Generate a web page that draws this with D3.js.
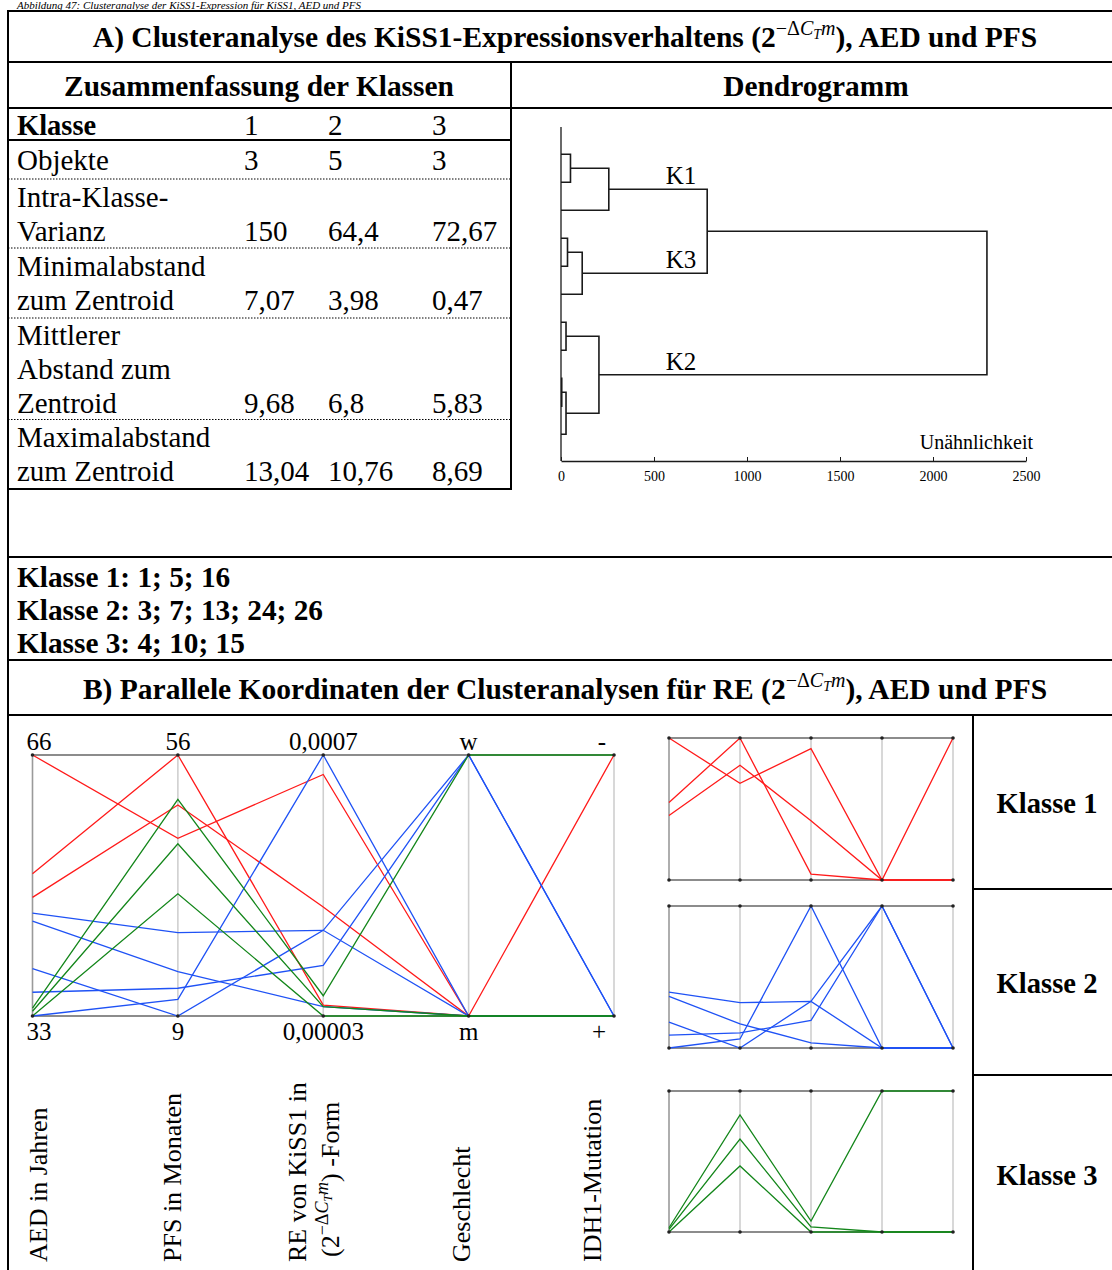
<!DOCTYPE html>
<html>
<head>
<meta charset="utf-8">
<script src="https://cdn.jsdelivr.net/npm/d3@7"></script>
<style>
  body { margin: 0; background: #fff; }
  svg { display: block; font-family: "Liberation Serif", "Times New Roman", serif; }
</style>
</head>
<body>
<svg id="chart" width="1112" height="1270"></svg>
<script>
// --- table A: summary of the classes ---
const klassenNr = ["1", "2", "3"];
const rowLabels = [
    ["Objekte"],
    ["Intra-Klasse-", "Varianz"],
    ["Minimalabstand", "zum Zentroid"],
    ["Mittlerer", "Abstand zum", "Zentroid"],
    ["Maximalabstand", "zum Zentroid"]
];
const objekte = ["3", "5", "3"];
const intraVarianz = ["150", "64,4", "72,67"];
const minAbstand = ["7,07", "3,98", "0,47"];
const mittAbstand = ["9,68", "6,8", "5,83"];
const maxAbstand = ["13,04", "10,76", "8,69"];
const klasseMembers = ["1; 5; 16", "3; 7; 13; 24; 26", "4; 10; 15"];

// --- dendrogram (linkage: left child, right child, height) ---
const leafCount = 11;
const linkLeft = [0, 11, 3, 13, 6, 8, 16, 15, 12, 19];
const linkRight = [1, 2, 4, 5, 7, 9, 10, 17, 14, 18];
const linkHeight = [51, 257, 35, 114, 27, 4, 27, 204, 786, 2290];
const clusterNodes = [12, 14, 18];
const clusterNames = ["K1", "K3", "K2"];
const dendroTicks = [0, 500, 1000, 1500, 2000, 2500];

// --- parallel coordinates ---
const dims = ["aed", "pfs", "re", "sex", "idh"];
const aedRange = [33, 66];
const pfsRange = [9, 56];
const reRange = [0.00003, 0.0007];
const sexLevels = ["m", "w"];
const idhLevels = ["+", "-"];
const topLabels = ["66", "56", "0,0007", "w", "-"];
const bottomLabels = ["33", "9", "0,00003", "m", "+"];

const klasse = [1, 1, 1, 2, 2, 2, 2, 2, 3, 3, 3];
const aed = [66, 51, 48, 46, 45, 39, 36, 33, 34, 33.6, 33];
const pfs = [41, 56, 47, 24, 17, 9, 14, 12, 48, 40, 31];
const re = [0.00065, 0.000058, 0.00031, 0.00025, 0.000054, 0.00025, 0.00016, 0.0007, 0.000082, 0.000054, 0.00003];
const sex = ["m", "m", "m", "m", "m", "w", "w", "m", "w", "m", "m"];
const idh = ["-", "+", "+", "+", "+", "+", "+", "+", "-", "+", "+"];

const klasseColors = { 1: "#ff1a1a", 2: "#1f52f5", 3: "#13861a" };

const svg = d3.select('#chart');
const W = 1112;

// helper: plain text
function txt(x, y, s, size, opts = {}) {
    return svg.append('text')
        .attr('x', x).attr('y', y)
        .attr('font-size', size)
        .attr('font-weight', opts.bold ? 'bold' : 'normal')
        .attr('font-style', opts.italic ? 'italic' : 'normal')
        .attr('text-anchor', opts.anchor || 'start')
        .attr('fill', '#000')
        .text(s);
}

// helper: text with the 2^(-ΔCTm) term
function mathText(parent, before, after, size, bold) {
    const t = parent.append('text')
        .attr('font-size', size)
        .attr('font-weight', bold ? 'bold' : 'normal')
        .attr('fill', '#000');
    const sup = Math.round(size * 0.68);
    const sub = Math.round(size * 0.48);
    t.append('tspan').text(before + '(2');
    t.append('tspan').attr('dy', -size * 0.42).attr('font-size', sup)
        .attr('font-weight', 'normal').text('\u2212\u0394');
    t.append('tspan').attr('font-size', sup).attr('font-style', 'italic')
        .attr('font-weight', 'normal').text('C');
    t.append('tspan').attr('dy', size * 0.16).attr('font-size', sub)
        .attr('font-style', 'italic').attr('font-weight', 'normal').text('T');
    t.append('tspan').attr('dy', -size * 0.16).attr('font-size', sup)
        .attr('font-style', 'italic').attr('font-weight', 'normal').text('m');
    t.append('tspan').attr('dy', size * 0.42).text(')' + after);
    return t;
}

function hline(x1, x2, y, w = 2, dash = null) {
    svg.append('line').attr('x1', x1).attr('x2', x2).attr('y1', y).attr('y2', y)
        .attr('stroke', '#000').attr('stroke-width', w)
        .attr('stroke-dasharray', dash);
}
function vline(x, y1, y2, w = 2) {
    svg.append('line').attr('x1', x).attr('x2', x).attr('y1', y1).attr('y2', y2)
        .attr('stroke', '#000').attr('stroke-width', w);
}

// ---------- frame ----------
txt(17, 8.5, 'Abbildung 47: Clusteranalyse der KiSS1-Expression für KiSS1, AED und PFS', 11, { italic: true });

const xL = 8, xDiv = 511, xRight = 973;
hline(xL - 1, W, 11);
hline(xL - 1, W, 62);
hline(xL - 1, W, 108);
hline(xL - 1, xDiv, 140);
hline(xL - 1, xDiv + 1, 489);
hline(xL - 1, W, 557);
hline(xL - 1, W, 660);
hline(xL - 1, W, 715);
hline(xRight, W, 889);
hline(xRight, W, 1075);
vline(xL, 11, 1270);
vline(xDiv, 62, 489);
vline(xRight, 715, 1270);

mathText(svg, 'A) Clusteranalyse des KiSS1-Expressionsverhaltens ', ', AED und PFS', 29.5, true)
    .attr('x', 565).attr('y', 47).attr('text-anchor', 'middle');
txt(259, 96, 'Zusammenfassung der Klassen', 29.4, { bold: true, anchor: 'middle' });
txt(816, 96, 'Dendrogramm', 29.4, { bold: true, anchor: 'middle' });

// ---------- summary table ----------
const colX = [244, 328, 432];
const rowY = [170, 207, 276, 345, 447];
const lineStep = 34;
const rowValues = [objekte, intraVarianz, minAbstand, mittAbstand, maxAbstand];
const dottedY = [179, 248, 318, 419.5];

txt(17, 135, 'Klasse', 28.5, { bold: true });
klassenNr.forEach((k, i) => txt(colX[i], 135, k, 29));
rowLabels.forEach((lines, r) => {
    lines.forEach((s, j) => txt(17, rowY[r] + j * lineStep, s, 29));
    const yLast = rowY[r] + (lines.length - 1) * lineStep;
    rowValues[r].forEach((v, i) => txt(colX[i], yLast, v, 29));
});
dottedY.forEach(y => hline(xL, xDiv, y, 1, '1.5,1.5'));

// ---------- class members ----------
klasseMembers.forEach((m, i) =>
    txt(17, 587 + i * 33, `Klasse ${i + 1}: ${m}`, 29.3, { bold: true }));

mathText(svg, 'B) Parallele Koordinaten der Clusteranalysen für RE ', ', AED und PFS', 29.5, true)
    .attr('x', 565).attr('y', 699).attr('text-anchor', 'middle');

// ---------- dendrogram ----------
const nodes = d3.range(leafCount).map(i => ({ id: i, h: 0 }));
linkLeft.forEach((a, k) => {
    nodes.push({ id: leafCount + k, h: linkHeight[k], children: [nodes[a], nodes[linkRight[k]]] });
});
const root = d3.hierarchy(nodes[nodes.length - 1]);
const leafStep = 28;
d3.cluster().size([leafStep * leafCount, 1]).separation(() => 1)(root);

const dx = d3.scaleLinear().domain([0, 2500]).range([561, 1026]);
const dyTop = 154.3 - leafStep / 2;
const dendro = svg.append('g');

root.descendants().filter(n => n.children).forEach(n => {
    const xm = dx(n.data.h);
    const ys = n.children.map(c => c.x + dyTop);
    dendro.append('path')
        .attr('d', `M${dx(n.children[0].data.h)},${ys[0]}H${xm}V${ys[1]}H${dx(n.children[1].data.h)}`)
        .attr('fill', 'none').attr('stroke', '#1a1a1a').attr('stroke-width', 1.6);
});
dendro.append('line').attr('x1', dx(0)).attr('x2', dx(0)).attr('y1', 127).attr('y2', 461)
    .attr('stroke', '#1a1a1a').attr('stroke-width', 1.3);

root.descendants().filter(n => clusterNodes.includes(n.data.id)).forEach(n => {
    const name = clusterNames[clusterNodes.indexOf(n.data.id)];
    dendro.append('text').attr('x', 681).attr('y', n.x + dyTop - 5)
        .attr('text-anchor', 'middle').attr('font-size', 25).text(name);
});

const dAxis = dendro.append('g').attr('transform', 'translate(0,461)')
    .call(d3.axisBottom(dx).tickValues(dendroTicks).tickFormat(d3.format('d'))
        .tickSizeInner(-4).tickSizeOuter(0).tickPadding(10));
dAxis.select('.domain').attr('stroke', '#1a1a1a').attr('stroke-width', 1.3);
dAxis.selectAll('.tick line').attr('stroke', '#1a1a1a');
dAxis.selectAll('.tick text').attr('font-size', 14)
    .attr('font-family', '"Liberation Serif", serif').attr('fill', '#000');
dendro.append('text').attr('x', 1033).attr('y', 449).attr('text-anchor', 'end')
    .attr('font-size', 20).text('Unähnlichkeit');

// ---------- parallel coordinates ----------
const rows = klasse.map((k, i) => ({ klasse: k, aed: aed[i], pfs: pfs[i], re: re[i], sex: sex[i], idh: idh[i] }));

function drawParallel(x0, x1, yTop, yBot, data, withLabels) {
    const g = svg.append('g');
    const x = d3.scalePoint().domain(dims).range([x0, x1]);
    const y = {
        aed: d3.scaleLinear().domain(aedRange).range([yBot, yTop]),
        pfs: d3.scaleLinear().domain(pfsRange).range([yBot, yTop]),
        re: d3.scaleLinear().domain(reRange).range([yBot, yTop]),
        sex: d3.scalePoint().domain(sexLevels).range([yBot, yTop]),
        idh: d3.scalePoint().domain(idhLevels).range([yBot, yTop])
    };
    dims.forEach((d, i) => {
        g.append('line').attr('x1', x(d)).attr('x2', x(d)).attr('y1', yTop).attr('y2', yBot)
            .attr('stroke', i === 0 ? '#9a9a9a' : '#cfcfcf').attr('stroke-width', 1.6);
    });
    [yTop, yBot].forEach(yy => {
        g.append('line').attr('x1', x0).attr('x2', x1).attr('y1', yy).attr('y2', yy)
            .attr('stroke', '#666').attr('stroke-width', 1.5);
    });

    const line = d3.line();
    [1, 2, 3].forEach(k => {
        g.selectAll(null).data(data.filter(r => r.klasse === k)).enter().append('path')
            .attr('d', r => line(dims.map(d => [x(d), y[d](r[d])])))
            .attr('fill', 'none').attr('stroke', klasseColors[k]).attr('stroke-width', 1.3);
    });

    dims.forEach(d => {
        [yTop, yBot].forEach(yy => {
            g.append('circle').attr('cx', x(d)).attr('cy', yy).attr('r', 1.8).attr('fill', '#222');
        });
    });

    if (withLabels) {
        dims.forEach((d, i) => {
            const anchor = i === 0 ? 'start' : (i === dims.length - 1 ? 'end' : 'middle');
            const xx = i === 0 ? x(d) - 6 : (i === dims.length - 1 ? x(d) - 8 : x(d));
            g.append('text').attr('x', xx).attr('y', yTop - 5).attr('text-anchor', anchor)
                .attr('font-size', 25).text(topLabels[i]);
            g.append('text').attr('x', xx).attr('y', yBot + 24).attr('text-anchor', anchor)
                .attr('font-size', 25).text(bottomLabels[i]);
        });
    }
}

drawParallel(32.5, 614, 755, 1016, rows, true);
drawParallel(669, 953, 738, 880, rows.filter(r => r.klasse === 1), false);
drawParallel(669, 953, 906, 1048, rows.filter(r => r.klasse === 2), false);
drawParallel(669, 953, 1091, 1232, rows.filter(r => r.klasse === 3), false);

// rotated axis titles
const titleG = svg.append('g');
function rotText(xBase, s) {
    return titleG.append('text').attr('transform', `translate(${xBase},1262) rotate(-90)`)
        .attr('font-size', 26).text(s);
}
rotText(47, 'AED in Jahren');
rotText(181, 'PFS in Monaten');
rotText(306, 'RE von KiSS1 in');
mathText(titleG, '', ' -Form', 26, false)
    .attr('transform', 'translate(339,1257) rotate(-90)');
rotText(470, 'Geschlecht');
rotText(601, 'IDH1-Mutation');

// class labels on the right
[813, 993, 1185].forEach((yy, i) =>
    txt(1047, yy, `Klasse ${i + 1}`, 28.6, { bold: true, anchor: 'middle' }));
</script>
</body>
</html>
